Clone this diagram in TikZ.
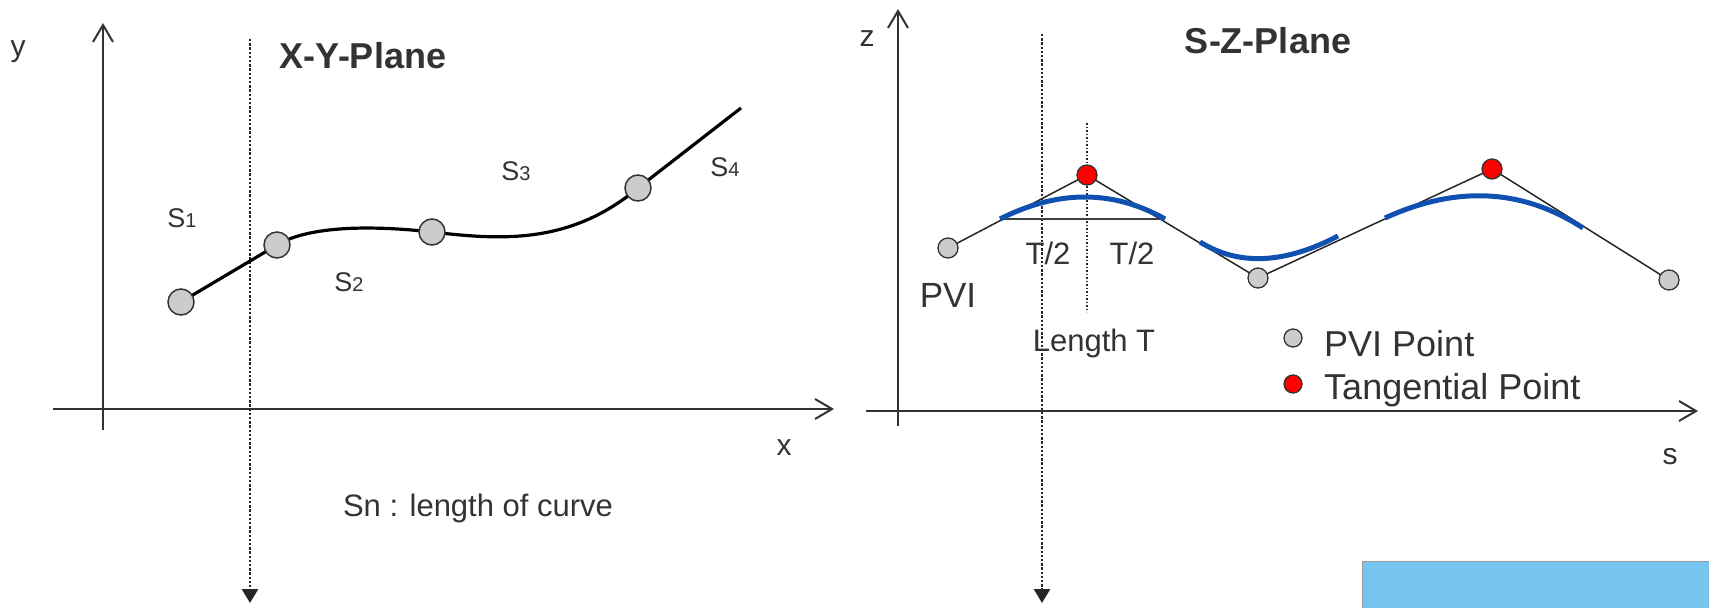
\documentclass[tikz,border=0pt]{standalone}
\usepackage{fontspec}
\setmainfont{Liberation Sans}
\usetikzlibrary{arrows.meta,calc}
\definecolor{txt}{HTML}{333333}
\definecolor{ptgray}{HTML}{CCCCCC}
\definecolor{curveblue}{HTML}{1050B0}
\definecolor{boxblue}{HTML}{77C4EF}
\begin{document}
\begin{tikzpicture}[x=1pt,y=-1pt,
  axis/.style={line width=2pt, draw=txt, -{Straight Barb[length=17pt,width=20pt,line width=2pt]}},
  dotarrow/.style={line width=2.6pt, draw=black!85, dash pattern=on 2.4pt off 1.8pt, -{Triangle[length=14pt,width=16pt]}},
  thindot/.style={line width=1.4pt, draw=black!85, dash pattern=on 1.6pt off 1.9pt},
  bigpt/.style={circle, draw=txt, line width=1.5pt, fill=ptgray, minimum size=26pt, inner sep=0pt},
  pvipt/.style={circle, draw=txt, line width=1.3pt, fill=ptgray, minimum size=20pt, inner sep=0pt},
  tanpt/.style={circle, draw=txt, line width=1.3pt, fill=red, minimum size=20pt, inner sep=0pt},
  lbl/.style={text=txt, inner sep=0pt, font=\fontsize{30}{36}\selectfont},
  slbl/.style={text=txt, inner sep=0pt, font=\fontsize{27}{30}\selectfont},
  title/.style={text=txt, inner sep=0pt, font=\fontsize{36}{42}\selectfont\bfseries},
  midlbl/.style={text=txt, inner sep=0pt, font=\fontsize{31}{37}\selectfont},
  leglbl/.style={text=txt, inner sep=0pt, font=\fontsize{36}{42}\selectfont},
  poly/.style={line width=1.5pt, draw=black!85},
  blue/.style={line width=5pt, draw=curveblue}
]
\useasboundingbox (0,0) rectangle (1709,608);
\fill[white] (0,0) rectangle (1709,608);

% ---------- left panel: X-Y plane ----------
\coordinate (yb) at (103,430);
\coordinate (yt) at (103,23);
\coordinate (xl) at (53,409);
\coordinate (xr) at (834,409);
\draw[axis] (yb) -- (yt);
\draw[axis] (xl) -- (xr);
\node[lbl] (ylab) at (18,52) {y};
\node[lbl] (xlab) at (784,448) {x};
\node[title] (xytitle) at (363,56) {X-Y-Plane};

\coordinate (dl1) at (250,39);
\coordinate (dl2) at (250,603);
\draw[dotarrow] (dl1) -- (dl2);

\coordinate (q1) at (181,302);
\coordinate (q2) at (277,245);
\coordinate (q3) at (432,232);
\coordinate (q4) at (638,188);
\coordinate (q5) at (741,108);
\draw[line width=3.2pt, black] (q1) -- (q2)
  .. controls (305,228) and (360,224) .. (q3)
  .. controls (500,240) and (570,245) .. (q4) -- (q5);
\node[bigpt] (p1) at (q1) {};
\node[bigpt] (p2) at (q2) {};
\node[bigpt] (p3) at (q3) {};
\node[bigpt] (p4) at (q4) {};

\node[slbl] (s1) at (182,218) {S{\fontsize{20}{23}\selectfont 1}};
\node[slbl] (s2) at (349,282) {S{\fontsize{20}{23}\selectfont 2}};
\node[slbl] (s3) at (516,171) {S{\fontsize{20}{23}\selectfont 3}};
\node[slbl] (s4) at (725,167) {S{\fontsize{20}{23}\selectfont 4}};
\node[midlbl] (sn) at (478,508) {Sn : length of curve};

% ---------- right panel: S-Z plane ----------
\coordinate (zb) at (898,426);
\coordinate (zt) at (898,9);
\coordinate (sl) at (866,411);
\coordinate (sr) at (1698,411);
\draw[axis] (zb) -- (zt);
\draw[axis] (sl) -- (sr);
\node[lbl] (zlab) at (867,39) {z};
\node[lbl] (slab) at (1670,457) {s};
\node[title] (sztitle) at (1268,41) {S-Z-Plane};

\coordinate (dr1) at (1042,34);
\coordinate (dr2) at (1042,603);
\draw[dotarrow] (dr1) -- (dr2);
\coordinate (td1) at (1087,123);
\coordinate (td2) at (1087,312);
\draw[thindot] (td1) -- (td2);

\coordinate (v1) at (948,248);
\coordinate (r1) at (1087,175);
\coordinate (v2) at (1258,278);
\coordinate (r2) at (1492,169);
\coordinate (v3) at (1669,280);
\draw[poly] (v1) -- (r1) -- (v2) -- (r2) -- (v3);

\coordinate (a1) at (1000,219);
\coordinate (b1) at (1165,219);
\draw[line width=2pt, draw=black!75] (a1) -- (b1);
\coordinate (a2) at (1200,242);
\coordinate (b2) at (1338,236);
\coordinate (a3) at (1385,218);
\coordinate (b3) at (1583,228);
\draw[blue] (a1) .. controls ($(a1)!0.6667!(r1)$) and ($(b1)!0.6667!(r1)$) .. (b1);
\draw[blue] (a2) .. controls ($(a2)!0.6667!(v2)$) and ($(b2)!0.6667!(v2)$) .. (b2);
\draw[blue] (a3) .. controls ($(a3)!0.6667!(r2)$) and ($(b3)!0.6667!(r2)$) .. (b3);

\node[pvipt] (pv1) at (v1) {};
\node[pvipt] (pv2) at (v2) {};
\node[pvipt] (pv3) at (v3) {};
\node[tanpt] (tp1) at (r1) {};
\node[tanpt] (tp2) at (r2) {};

\node[midlbl] (th1) at (1048,253) {T/2};
\node[midlbl] (th2) at (1132,253) {T/2};
\node[leglbl, font=\fontsize{35}{42}\selectfont] (pvi) at (948,295) {PVI};
\node[midlbl] (lt) at (1094,343) {Length T};

\node[pvipt, minimum size=18pt] (lg1) at (1293,338) {};
\node[tanpt, minimum size=18pt] (lg2) at (1293,384) {};
\node[leglbl, anchor=base west] (lgt1) at (1324,356) {PVI Point};
\node[leglbl, anchor=base west] (lgt2) at (1324,399) {Tangential Point};

\draw[fill=boxblue, draw=black!40, line width=1pt] (1362,561) rectangle (1712,612);
\end{tikzpicture}
\end{document}
